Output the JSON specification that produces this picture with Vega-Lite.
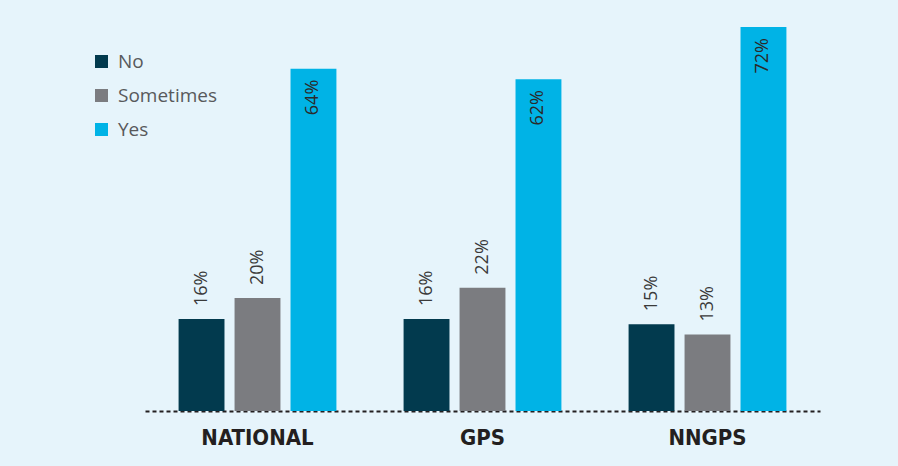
{
  "$schema": "https://vega.github.io/schema/vega-lite/v6.json",
  "width": 675,
  "height": 384,
  "autosize": {"type": "none"},
  "padding": {"left": 145, "top": 27, "right": 78, "bottom": 55},
  "background": "#e6f4fb",
  "config": {"view": {"stroke": null}},
  "data": {
    "values": [
      {"group": "NATIONAL", "answer": "No", "value": 16, "label": "16%"},
      {"group": "NATIONAL", "answer": "Sometimes", "value": 20, "label": "20%"},
      {"group": "NATIONAL", "answer": "Yes", "value": 64, "label": "64%"},
      {"group": "GPS", "answer": "No", "value": 16, "label": "16%"},
      {"group": "GPS", "answer": "Sometimes", "value": 22, "label": "22%"},
      {"group": "GPS", "answer": "Yes", "value": 62, "label": "62%"},
      {"group": "NNGPS", "answer": "No", "value": 15, "label": "15%"},
      {"group": "NNGPS", "answer": "Sometimes", "value": 13, "label": "13%"},
      {"group": "NNGPS", "answer": "Yes", "value": 72, "label": "72%"}
    ]
  },
  "encoding": {
    "x": {
      "field": "group",
      "type": "nominal",
      "sort": ["NATIONAL", "GPS", "NNGPS"],
      "scale": {"paddingInner": 0, "paddingOuter": 0},
      "axis": {
        "title": null,
        "ticks": false,
        "labelAngle": 0,
        "labelFont": "DejaVu Sans Condensed",
        "labelFontWeight": "bold",
        "labelFontSize": 22,
        "labelColor": "#231f20",
        "labelPadding": 16,
        "domainColor": "#231f20",
        "domainWidth": 2,
        "domainDash": [4, 3]
      }
    },
    "xOffset": {
      "field": "answer",
      "type": "nominal",
      "sort": ["No", "Sometimes", "Yes"],
      "scale": {"paddingInner": 0.18, "paddingOuter": 0.6}
    },
    "y": {
      "field": "value",
      "type": "quantitative",
      "scale": {"domain": [-1.65, 72], "nice": false, "zero": false},
      "axis": null
    }
  },
  "layer": [
    {
      "mark": {"type": "bar"},
      "encoding": {
        "y2": {"datum": -1.65},
        "color": {
          "field": "answer",
          "type": "nominal",
          "scale": {"domain": ["No", "Sometimes", "Yes"], "range": ["#023a4e", "#7b7c80", "#00b3e6"]},
          "legend": {
            "title": null,
            "orient": "none",
            "legendX": -53,
            "legendY": 25,
            "padding": 0,
            "symbolType": "square",
            "symbolSize": 169,
            "symbolStrokeWidth": 0,
            "labelFont": "Open Sans",
            "labelFontSize": 19,
            "labelColor": "#58595b",
            "labelOffset": 7,
            "rowPadding": 14
          }
        }
      }
    },
    {
      "transform": [{"filter": "datum.answer !== 'Yes'"}],
      "mark": {"type": "text", "angle": 270, "align": "left", "baseline": "middle", "dx": 13, "font": "Open Sans", "fontSize": 18, "color": "#3a3a3a"},
      "encoding": {"text": {"field": "label"}}
    },
    {
      "transform": [{"filter": "datum.answer === 'Yes'"}],
      "mark": {"type": "text", "angle": 270, "align": "right", "baseline": "middle", "dx": -11, "font": "Open Sans", "fontSize": 18, "color": "#2a2a2a"},
      "encoding": {"text": {"field": "label"}}
    }
  ]
}
